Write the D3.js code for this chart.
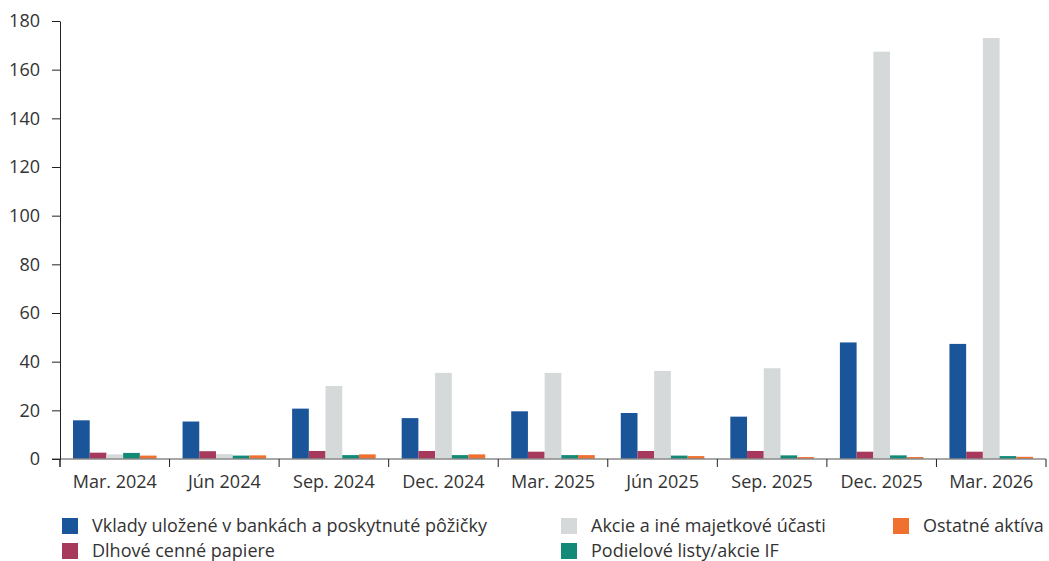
<!DOCTYPE html>
<html><head><meta charset="utf-8">
<script src="https://cdn.jsdelivr.net/npm/d3@7"></script>
<style>
html,body{margin:0;padding:0;background:#fff;}
svg{display:block;font-family:"Open Sans",sans-serif;}
</style></head>
<body><svg id="c" width="1049" height="561"></svg>
<script>
const categories = ["Mar. 2024","Jún 2024","Sep. 2024","Dec. 2024","Mar. 2025","Jún 2025","Sep. 2025","Dec. 2025","Mar. 2026"];
const seriesNames = ["Vklady uložené v bankách a poskytnuté pôžičky","Dlhové cenné papiere","Akcie a iné majetkové účasti","Podielové listy/akcie IF","Ostatné aktíva"];
const vklady   = [15.9, 15.4, 20.7, 16.8, 19.6, 18.9, 17.4, 47.9, 47.3];
const dlhove   = [2.6, 3.2, 3.3, 3.3, 3.0, 3.3, 3.3, 3.0, 3.0];
const akcie    = [1.9, 2.0, 30.0, 35.4, 35.4, 36.2, 37.3, 167.4, 173.0];
const podielove= [2.5, 1.4, 1.6, 1.6, 1.6, 1.4, 1.5, 1.5, 1.2];
const ostatne  = [1.4, 1.5, 1.9, 1.9, 1.6, 1.2, 0.8, 0.8, 0.9];
const yTicks = [0,20,40,60,80,100,120,140,160,180];
const colors = ["#1a5499","#a6395c","#d5d9da","#138a78","#f07030"];

(function(){
const series = [vklady, dlhove, akcie, podielove, ostatne];
const svg = d3.select("#c");
const mLeft = 60, mRight = 1046, mTop = 21, mBottom = 459;
const fs = "18px";

const x0 = d3.scaleBand().domain(categories).range([mLeft, mRight]).padding(0);
const x1 = d3.scaleBand().domain(d3.range(series.length)).range([13, x0.bandwidth()-13]).padding(0);
const y = d3.scaleLinear().domain([0,180]).range([mBottom, mTop]);

const g = svg.append("g");
categories.forEach((c, ci) => {
  series.forEach((s, si) => {
    g.append("rect")
      .attr("x", x0(c) + x1(si))
      .attr("y", y(s[ci]))
      .attr("width", x1.bandwidth())
      .attr("height", y(0) - y(s[ci]))
      .attr("fill", colors[si]);
  });
});

svg.append("line").attr("x1", mLeft-8).attr("x2", mRight).attr("y1", y(0)).attr("y2", y(0))
  .attr("stroke", "#8a8a8a").attr("stroke-width", 1.5);

const yAx = svg.append("g").attr("transform", `translate(${mLeft},0)`)
  .call(d3.axisLeft(y).tickValues(yTicks).tickSize(8).tickSizeOuter(0).tickPadding(12));
yAx.select(".domain").attr("stroke", "#222");
yAx.selectAll(".tick line").attr("stroke", "#222");
yAx.selectAll(".tick text").attr("fill", "#333").style("font-size", fs).style("font-family", "'Open Sans',sans-serif");
svg.append("line").attr("x1", mLeft).attr("x2", mLeft).attr("y1", y(0)).attr("y2", y(0)+8).attr("stroke", "#222");

const bounds = categories.map(c => x0(c)).concat([x0(categories[categories.length-1]) + x0.bandwidth()]);
svg.append("g").selectAll("line").data(bounds).join("line")
  .attr("x1", d => d).attr("x2", d => d).attr("y1", y(0)).attr("y2", y(0)+8)
  .attr("stroke", "#222");

const xAx = svg.append("g").attr("transform", `translate(0,${y(0)})`)
  .call(d3.axisBottom(x0).tickSize(0).tickPadding(16));
xAx.select(".domain").remove();
xAx.selectAll(".tick text").attr("fill", "#333").style("font-size", fs).style("font-family", "'Open Sans',sans-serif");

const legendPos = [[62,518],[62,543],[561,518],[561,543],[893,518]];
const lg = svg.append("g");
series.forEach((s, si) => {
  const [lx, ly] = legendPos[si];
  lg.append("rect").attr("x", lx).attr("y", ly).attr("width", 16).attr("height", 16).attr("fill", colors[si]);
  lg.append("text").attr("x", lx + 30).attr("y", ly + 8).attr("dy", "0.35em")
    .attr("fill", "#333").style("font-size", fs).text(seriesNames[si]);
});
})();
</script></body></html>
